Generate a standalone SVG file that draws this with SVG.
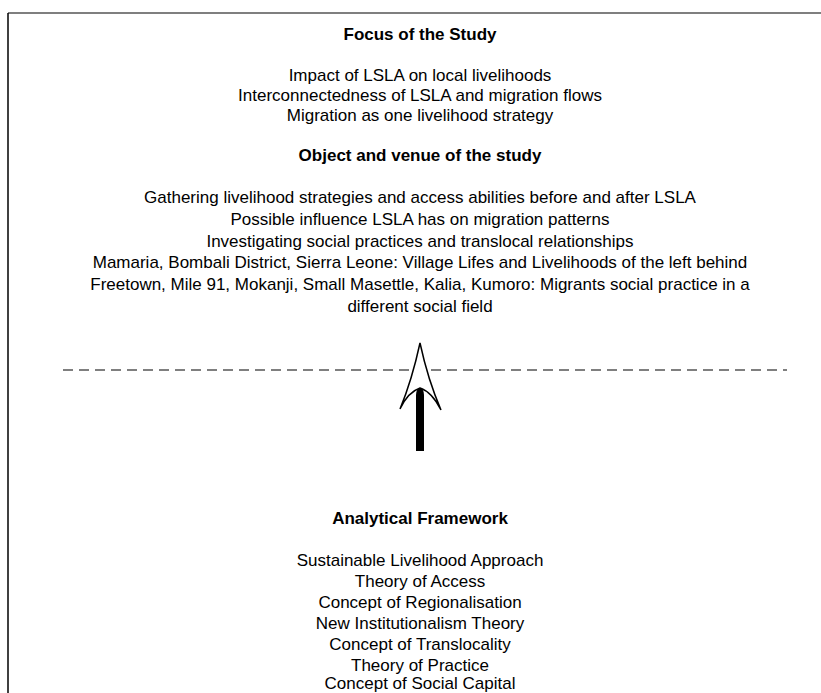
<svg xmlns="http://www.w3.org/2000/svg" width="821" height="693" viewBox="0 0 821 693">
  <style>
    text { font-family: "Liberation Sans", Arial, sans-serif; font-size: 17px; fill: #000; text-anchor: middle; }
    .head { font-weight: bold; }
    .frame-top { stroke: #7f7f7f; stroke-width: 2; fill: none; }
    .frame-left { stroke: #000; stroke-width: 1.5; fill: none; }
    .divider { stroke: #555; stroke-width: 1.5; stroke-dasharray: 10 6; fill: none; }
  </style>
  <rect width="821" height="693" fill="#fff"/>

  <!-- frame -->
  <line class="frame-top" x1="8" y1="13" x2="821" y2="13"/>
  <line class="frame-left" x1="8" y1="13" x2="8" y2="693"/>

  <!-- focus block -->
  <g id="focus">
    <text class="head" x="420" y="40">Focus of the Study</text>
    <text x="420" y="81">Impact of LSLA on local livelihoods</text>
    <text x="420" y="101">Interconnectedness of LSLA and migration flows</text>
    <text x="420" y="121">Migration as one livelihood strategy</text>
  </g>

  <!-- object and venue block -->
  <g id="object">
    <text class="head" x="420" y="161">Object and venue of the study</text>
    <text x="420" y="203">Gathering livelihood strategies and access abilities before and after LSLA</text>
    <text x="420" y="224.8">Possible influence LSLA has on migration patterns</text>
    <text x="420" y="246.6">Investigating social practices and translocal relationships</text>
    <text x="420" y="268.4">Mamaria, Bombali District, Sierra Leone: Village Lifes and Livelihoods of the left behind</text>
    <text x="420" y="290.2">Freetown, Mile 91, Mokanji, Small Masettle, Kalia, Kumoro: Migrants social practice in a</text>
    <text x="420" y="312">different social field</text>
  </g>

  <!-- connectors -->
  <g id="connectors">
    <line class="divider" x1="63" y1="370" x2="787" y2="370"/>
    <path d="M416,451 L416,395 Q416,389 420,388 Q424,389 424,395 L424,451 Z" fill="#000"/>
    <path d="M420,343 Q428,380 441,410 Q432,392 420,388 Q408,392 400,409 Q412,380 420,343 Z" fill="#fff" stroke="#000" stroke-width="1.5" stroke-linejoin="miter"/>
  </g>

  <!-- analytical framework block -->
  <g id="framework">
    <text class="head" x="420" y="524">Analytical Framework</text>
    <text x="420" y="566">Sustainable Livelihood Approach</text>
    <text x="420" y="587">Theory of Access</text>
    <text x="420" y="608">Concept of Regionalisation</text>
    <text x="420" y="629">New Institutionalism Theory</text>
    <text x="420" y="650">Concept of Translocality</text>
    <text x="420" y="670.5">Theory of Practice</text>
    <text x="420" y="689">Concept of Social Capital</text>
  </g>
</svg>
